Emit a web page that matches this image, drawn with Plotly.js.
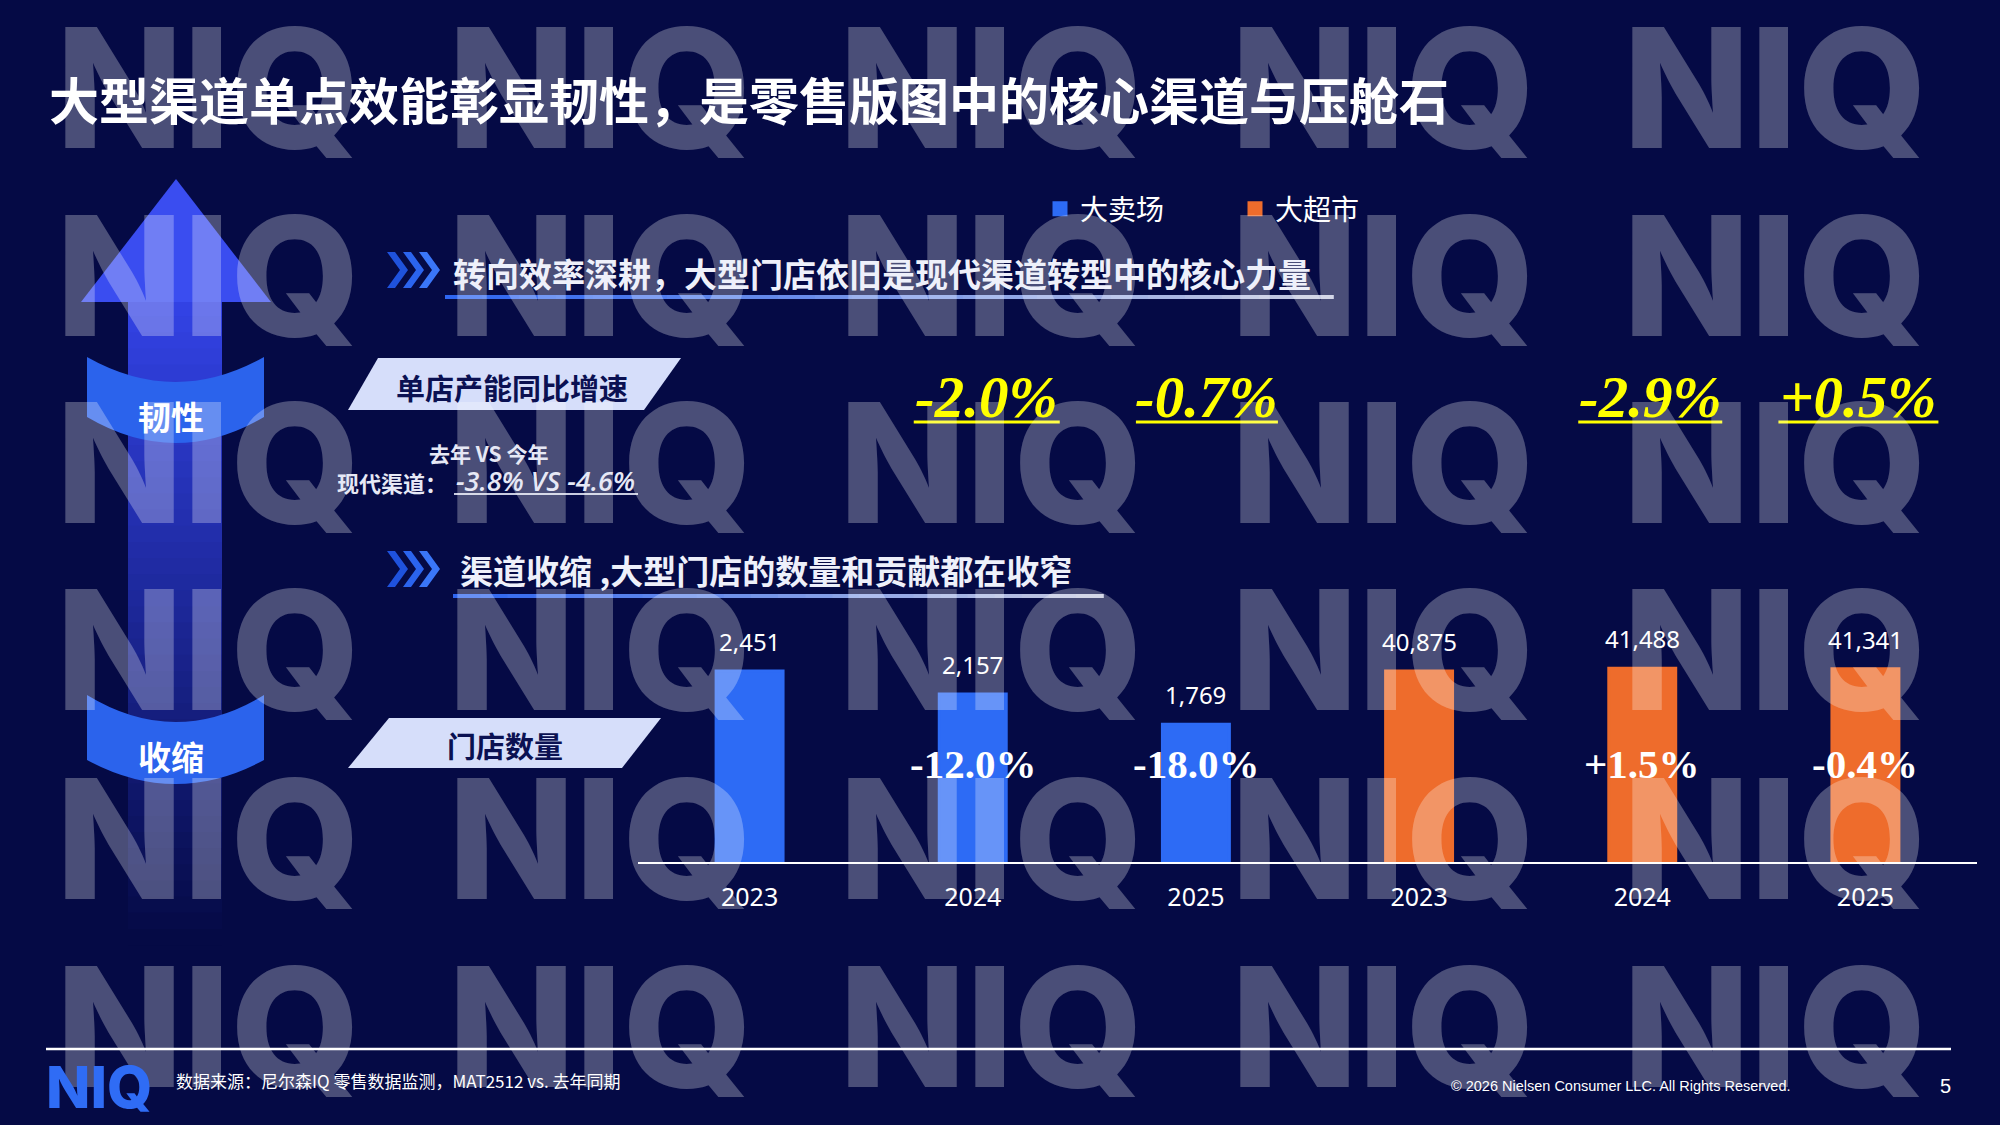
<!DOCTYPE html>
<html><head><meta charset="utf-8">
<script src="https://cdn.plot.ly/plotly-3.0.1.min.js"></script>
<style>html,body{margin:0;padding:0;background:#050A45;}#chart{width:2000px;height:1125px;}</style>
</head><body><div id="chart"></div>
<script>
// ---------- data ----------
const years = ['2023', '2024', '2025'];
const hyperName = '大卖场';
const superName = '大超市';
const hyperStores = [2451, 2157, 1769];
const superStores = [40875, 41488, 41341];
const hyperStoreGrowth = [null, '-12.0%', '-18.0%'];
const superStoreGrowth = [null, '+1.5%', '-0.4%'];
const hyperProdGrowth = [null, '-2.0%', '-0.7%'];
const superProdGrowth = [null, '-2.9%', '+0.5%'];
const modernChannel = ['-3.8%', '-4.6%'];

const titleText = '大型渠道单点效能彰显韧性，是零售版图中的核心渠道与压舱石';
const header1 = '转向效率深耕，大型门店依旧是现代渠道转型中的核心力量';
const header2 = '渠道收缩 ,大型门店的数量和贡献都在收窄';
const label1 = '单店产能同比增速';
const label2 = '门店数量';
const sideTop = '韧性';
const sideBottom = '收缩';
const compareHead = '去年 VS 今年';
const compareLabel = '现代渠道：';
const sourceText = '数据来源：尼尔森IQ 零售数据监测，MAT2512 vs. 去年同期';
const copyText = '© 2026 Nielsen Consumer LLC. All Rights Reserved.';
const pageNo = '5';
const brand = 'NIQ';

// ---------- helpers ----------
const W = 2000, H = 1125;
const px = x => x / W;
const py = y => 1 - y / H;
const P = (x, y) => px(x).toFixed(5) + ',' + py(y).toFixed(5);
const poly = pts => 'M' + pts.map(p => P(p[0], p[1])).join('L') + 'Z';
const mix = (a, b, t) => 'rgb(' + a.map((v, i) => Math.round(v + (b[i] - v) * t)).join(',') + ')';

const FONT_CJK = '"Noto Sans CJK SC", "Noto Sans", sans-serif';
const FONT_SERIF = '"Liberation Serif", "DejaVu Serif", serif';
const BG = '#050A45';
const BLUE = '#2D6BF5';
const ORANGE = '#EE6C2C';

const hyperCats = years.map(y => hyperName + ' ' + y);
const superCats = years.map(y => superName + ' ' + y);
const allCats = hyperCats.concat(superCats);

const traces = [
  {type: 'bar', name: hyperName, x: hyperCats, y: hyperStores, yaxis: 'y',
   marker: {color: BLUE, line: {color: BLUE, width: 3}}, width: 0.30, hoverinfo: 'skip'},
  {type: 'bar', name: superName, x: superCats, y: superStores, yaxis: 'y2',
   marker: {color: ORANGE, line: {color: ORANGE, width: 3}}, width: 0.30, hoverinfo: 'skip'}
];

const shapes = [];
const annotations = [];

// ---------- left arrow ----------
const shaftTop = [50, 66, 228], shaftEnd = [5, 10, 69];
const N = 40, s0 = 300, s1 = 945;
for (let i = 0; i < N; i++) {
  const ya = s0 + (s1 - s0) * i / N, yb = s0 + (s1 - s0) * (i + 1) / N + 0.8;
  shapes.push({type: 'rect', xref: 'paper', yref: 'paper', layer: 'below',
    x0: px(128), x1: px(222), y0: py(ya), y1: py(yb),
    fillcolor: mix(shaftTop, shaftEnd, i / (N - 1)), line: {width: 0}});
}
shapes.push({type: 'path', xref: 'paper', yref: 'paper', layer: 'below',
  path: poly([[81, 302], [176, 179], [271, 302]]), fillcolor: '#3A4DF0', line: {width: 0}});
function band(top, topC, bot, botC) {
  const cT = (4 * topC - 2 * top) / 2, cB = (4 * botC - 2 * bot) / 2;
  return 'M' + P(87, top) + ' Q' + P(175.5, cT) + ' ' + P(264, top) +
    ' L' + P(264, bot) + ' Q' + P(175.5, cB) + ' ' + P(87, bot) + ' Z';
}
shapes.push({type: 'path', xref: 'paper', yref: 'paper', layer: 'below',
  path: band(357, 382, 417, 443), fillcolor: '#2B63EC', line: {width: 0}});
shapes.push({type: 'path', xref: 'paper', yref: 'paper', layer: 'below',
  path: band(695, 722, 760, 784), fillcolor: '#2B63EC', line: {width: 0}});

// ---------- parallelogram labels ----------
shapes.push({type: 'path', xref: 'paper', yref: 'paper', layer: 'below',
  path: poly([[378, 358], [681, 358], [644, 410], [348, 410]]), fillcolor: '#D6DEFA', line: {width: 0}});
shapes.push({type: 'path', xref: 'paper', yref: 'paper', layer: 'below',
  path: poly([[389, 718], [661, 718], [622, 768], [348, 768]]), fillcolor: '#D6DEFA', line: {width: 0}});

// ---------- section headers: chevrons + gradient underline ----------
function chevrons(top, bottom) {
  const mid = (top + bottom) / 2, w = 8, d = 13;
  const cols = ['#1F52DD', '#2B64EE', '#3A76F8'];
  [387, 403, 419].forEach((x0, i) => {
    shapes.push({type: 'path', xref: 'paper', yref: 'paper', layer: 'below',
      path: poly([[x0, top], [x0 + w, top], [x0 + w + d, mid], [x0 + w, bottom], [x0, bottom], [x0 + d, mid]]),
      fillcolor: cols[i], line: {width: 0}});
  });
}
function gradLine(xa, xb, y, h) {
  const n = 24, c0 = [47, 102, 240], c1 = [196, 200, 224];
  for (let i = 0; i < n; i++) {
    shapes.push({type: 'rect', xref: 'paper', yref: 'paper', layer: 'below',
      x0: px(xa + (xb - xa) * i / n), x1: px(xa + (xb - xa) * (i + 1) / n + 0.8),
      y0: py(y - h / 2), y1: py(y + h / 2), fillcolor: mix(c0, c1, i / (n - 1)), line: {width: 0}});
  }
}
chevrons(252, 288);
gradLine(445, 1333, 297, 4);
chevrons(551, 587);
gradLine(453, 1103, 596, 4);

// comparison underline
shapes.push({type: 'line', xref: 'paper', yref: 'paper', x0: px(454), x1: px(638), y0: py(494), y1: py(494),
  line: {color: '#C8CCE0', width: 2}});
// footer line
shapes.push({type: 'line', xref: 'paper', yref: 'paper', x0: px(46), x1: px(1951), y0: py(1049), y1: py(1049),
  line: {color: '#FFFFFF', width: 2.5}});

// ---------- watermark ----------
const wmCols = [208, 600, 991, 1383, 1775];
const wmRows = [88, 275, 462, 650, 838, 1026];
wmRows.forEach(r => wmCols.forEach(c => {
  annotations.push({xref: 'paper', yref: 'paper', x: px(c), y: py(r), xanchor: 'center', yanchor: 'middle',
    text: brand, showarrow: false,
    font: {family: 'Inter, "Open Sans", sans-serif', size: 166, weight: 800, color: 'rgba(255,255,255,0.28)'}});
}));

// ---------- texts ----------
function txt(text, x, y, opts) {
  annotations.push(Object.assign({xref: 'paper', yref: 'paper', x: px(x), y: py(y), text: text,
    showarrow: false, xanchor: 'center', yanchor: 'middle'}, opts));
}
txt(header1, 451, 273, {xanchor: 'left', font: {family: FONT_CJK, size: 33, weight: 700, color: '#EEF0FA'}});
txt(header2, 458, 570, {xanchor: 'left', font: {family: FONT_CJK, size: 33, weight: 700, color: '#EEF0FA'}});
txt(label1, 512, 387, {font: {family: FONT_CJK, size: 29, weight: 700, color: '#0B1152'}});
txt(label2, 505, 745, {font: {family: FONT_CJK, size: 29, weight: 700, color: '#0B1152'}});
txt(sideTop, 171, 416, {font: {family: FONT_CJK, size: 33, weight: 700, color: '#FFFFFF'}});
txt(sideBottom, 171, 756, {font: {family: FONT_CJK, size: 33, weight: 700, color: '#FFFFFF'}});
txt(compareHead, 488, 453, {font: {family: FONT_CJK, size: 21, weight: 600, color: '#E6E8F5'}});
txt(compareLabel, 449, 482, {xanchor: 'right', font: {family: FONT_CJK, size: 22, weight: 600, color: '#E6E8F5'}});
txt('<i>' + modernChannel[0] + ' VS ' + modernChannel[1] + '</i>', 454, 480,
  {xanchor: 'left', font: {family: '"Open Sans", "Noto Sans", sans-serif', size: 27, weight: 600, color: '#E6E8F5'}});
txt(brand, 44, 1087, {xanchor: 'left', font: {family: 'Inter, sans-serif', size: 58, weight: 800, color: '#2F6CF5'}});
txt(sourceText, 174, 1080, {xanchor: 'left', font: {family: FONT_CJK, size: 17, color: '#FFFFFF'}});
txt(copyText, 1449, 1086, {xanchor: 'left', font: {family: '"Liberation Sans", Arial, sans-serif', size: 14.5, color: '#FFFFFF'}});
txt(pageNo, 1945, 1086, {font: {family: '"Liberation Sans", Arial, sans-serif', size: 20, color: '#FFFFFF'}});

// ---------- data-bound labels ----------
const valFont = {family: '"Noto Sans", sans-serif', size: 24, color: '#FFFFFF'};
hyperCats.forEach((c, i) => annotations.push({x: c, y: hyperStores[i], xref: 'x', yref: 'y', yanchor: 'bottom',
  yshift: 11, showarrow: false, text: hyperStores[i].toLocaleString('en-US'), font: valFont}));
superCats.forEach((c, i) => annotations.push({x: c, y: superStores[i], xref: 'x', yref: 'y2', yanchor: 'bottom',
  yshift: 11, showarrow: false, text: superStores[i].toLocaleString('en-US'), font: valFont}));

const growthFont = {family: FONT_SERIF, size: 41, weight: 700, color: '#FFFFFF'};
[[hyperCats, hyperStoreGrowth], [superCats, superStoreGrowth]].forEach(([cats, g]) => cats.forEach((c, i) => {
  if (g[i]) annotations.push({x: c, xref: 'x', y: py(764), yref: 'paper', yanchor: 'middle', showarrow: false,
    text: g[i], font: growthFont});
}));

const prodFont = {family: FONT_SERIF, size: 59, weight: 700, style: 'italic', color: '#FFFF00'};
const prodShift = [[0, 14, 11], [0, 8, -7]];
const prodHalf = [[0, 73, 71], [0, 72, 80]];
[[hyperCats, hyperProdGrowth], [superCats, superProdGrowth]].forEach(([cats, g], k) => cats.forEach((c, i) => {
  if (!g[i]) return;
  annotations.push({x: c, xref: 'x', xshift: prodShift[k][i], y: py(397), yref: 'paper', yanchor: 'middle',
    showarrow: false, text: g[i], font: prodFont});
  shapes.push({type: 'line', xref: 'x', xsizemode: 'pixel', xanchor: allCats.indexOf(c),
    x0: prodShift[k][i] - prodHalf[k][i], x1: prodShift[k][i] + prodHalf[k][i],
    yref: 'paper', y0: py(422), y1: py(422), line: {color: '#FFFF00', width: 3}});
}));

const layout = {
  width: W, height: H, autosize: false,
  margin: {l: 0, r: 0, t: 0, b: 0, pad: 0},
  paper_bgcolor: BG, plot_bgcolor: 'rgba(0,0,0,0)',
  font: {family: FONT_CJK, color: '#FFFFFF'},
  title: {text: titleText, x: px(49), xref: 'paper', xanchor: 'left', y: py(102), yref: 'paper', yanchor: 'middle',
    font: {family: FONT_CJK, size: 50, weight: 700, color: '#FFFFFF'}},
  barmode: 'overlay',
  showlegend: true,
  legend: {orientation: 'h', x: px(1040), y: py(209), xanchor: 'left', yanchor: 'middle',
    bgcolor: 'rgba(0,0,0,0)', font: {family: FONT_CJK, size: 28, color: '#FFFFFF'},
    entrywidth: 150, entrywidthmode: 'pixels', itemclick: false},
  xaxis: {domain: [px(638), px(1977)], type: 'category', categoryorder: 'array', categoryarray: allCats,
    range: [-0.5, 5.5], tickvals: allCats, ticktext: years.concat(years), ticks: '',
    tickfont: {family: '"Noto Sans", sans-serif', size: 25, color: '#FFFFFF'}, ticklabelstandoff: 12,
    showline: true, linecolor: '#FFFFFF', linewidth: 2, showgrid: false, zeroline: false, fixedrange: true},
  yaxis: {domain: [py(862), py(595)], range: [0, 3426], visible: false, fixedrange: true},
  yaxis2: {overlaying: 'y', range: [0, 57140], visible: false, fixedrange: true},
  shapes: shapes,
  annotations: annotations
};

Plotly.newPlot('chart', traces, layout, {staticPlot: true, displayModeBar: false});
</script></body></html>
